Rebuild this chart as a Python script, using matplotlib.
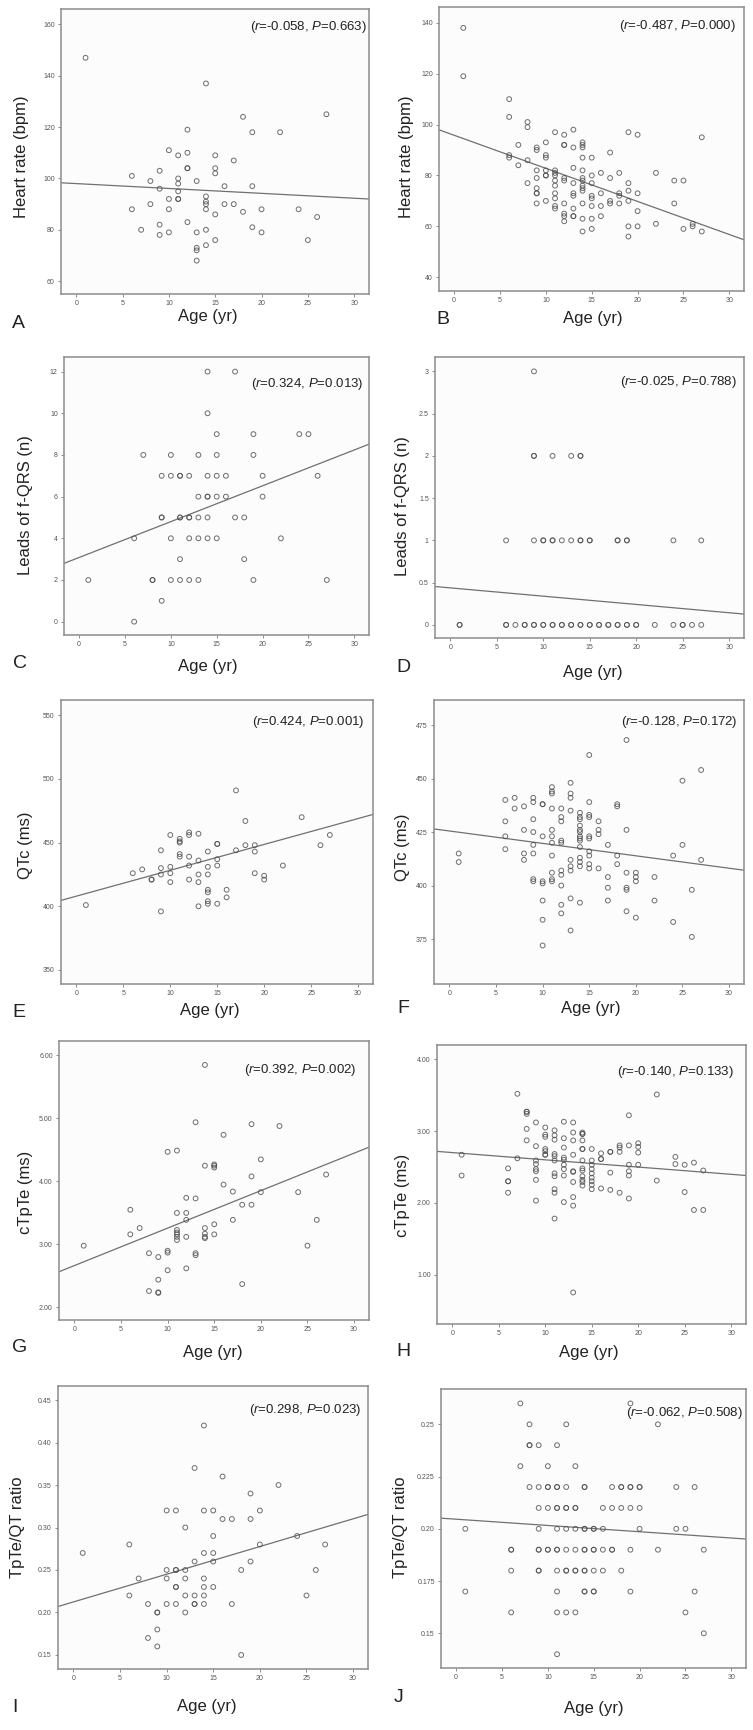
import numpy as np
import matplotlib.pyplot as plt

plt.rcParams['font.family'] = ['Liberation Sans', 'DejaVu Sans']
plt.rcParams['mathtext.fontset'] = 'custom'
plt.rcParams['mathtext.rm'] = 'Liberation Sans'
plt.rcParams['mathtext.it'] = 'Liberation Sans:italic'

# ---- data ----
# A: heart rate, group 1
A_age = [1, 14, 27, 18, 12, 19, 22, 10, 11, 12, 15, 17, 12, 12, 15, 15, 6, 9, 11, 8,
         13, 11, 9, 16, 19, 11, 14, 10, 11, 11, 14, 14, 8, 16, 17, 6, 10, 14, 20, 24,
         18, 15, 26, 12, 9, 19, 7, 14, 10, 13, 20, 9, 15, 25, 14, 13, 13, 13]
A_hr = [147, 137, 125, 124, 119, 118, 118, 111, 109, 110, 109, 107, 104, 104, 104, 102, 101, 103, 100, 99,
        99, 98, 96, 97, 97, 95, 93, 92, 92, 92, 91, 90, 90, 90, 90, 88, 88, 88, 88, 88,
        87, 86, 85, 83, 82, 81, 80, 80, 79, 79, 79, 78, 76, 76, 74, 73, 72, 68]

# B: heart rate, group 2
B_age = [1, 1,
         6, 6, 6, 6,
         7, 7,
         8, 8, 8, 8,
         9, 9, 9, 9, 9, 9, 9, 9,
         10, 10, 10, 10, 10, 10, 10,
         11, 11, 11, 11, 11, 11, 11, 11, 11, 11,
         12, 12, 12, 12, 12, 12, 12, 12, 12,
         13, 13, 13, 13, 13, 13, 13, 13, 13,
         14, 14, 14, 14, 14, 14, 14, 14, 14, 14, 14, 14, 14,
         15, 15, 15, 15, 15, 15, 15, 15,
         16, 16, 16, 16,
         17, 17, 17, 17,
         18, 18, 18, 18,
         19, 19, 19, 19, 19, 19,
         20, 20, 20, 20,
         22, 22, 24, 24, 25, 25, 26, 26, 27, 27]
B_hr = [138, 119,
        110, 103, 88, 87,
        92, 84,
        101, 99, 86, 77,
        91, 90, 82, 79, 75, 73, 73, 69,
        93, 88, 87, 82, 80, 80, 70,
        97, 82, 81, 80, 78, 76, 73, 71, 68, 67,
        96, 92, 92, 79, 78, 69, 65, 64, 62,
        98, 91, 83, 77, 73, 72, 67, 64, 64,
        93, 92, 91, 87, 82, 79, 78, 76, 75, 74, 69, 63, 58,
        87, 80, 77, 72, 71, 68, 63, 59,
        81, 73, 68, 64,
        89, 79, 70, 69,
        81, 73, 72, 69,
        97, 77, 74, 70, 60, 56,
        96, 73, 66, 60,
        81, 61, 78, 69, 78, 59, 61, 60, 95, 58]

# C: leads of f-QRS, group 1
C_age = [14, 17, 14, 15, 19, 24, 25, 7, 10, 13, 15, 19, 9, 10, 11, 11, 12, 14, 15, 16, 20, 26,
         13, 14, 14, 15, 16, 20, 9, 9, 11, 11, 12, 12, 13, 14, 17, 18, 6, 10, 12, 13, 14, 15, 22,
         11, 18, 1, 8, 8, 10, 11, 12, 13, 19, 27, 9, 6]
C_leads = [12, 12, 10, 9, 9, 9, 9, 8, 8, 8, 8, 8, 7, 7, 7, 7, 7, 7, 7, 7, 7, 7,
           6, 6, 6, 6, 6, 6, 5, 5, 5, 5, 5, 5, 5, 5, 5, 5, 4, 4, 4, 4, 4, 4, 4,
           3, 3, 2, 2, 2, 2, 2, 2, 2, 2, 2, 1, 0]

# D: leads of f-QRS, group 2
D_age = [9,
         9, 9, 11, 13, 14, 14,
         6, 9, 10, 10, 11, 11, 12, 13, 14, 14, 15, 15, 18, 18, 19, 19, 24, 27,
         1, 1, 6, 6, 7, 8, 8, 9, 9, 10, 10, 11, 11, 12, 12, 13, 13, 14, 14, 15, 15,
         16, 16, 17, 17, 18, 18, 19, 19, 20, 20, 22, 24, 25, 25, 26, 27]
D_leads = [3,
           2, 2, 2, 2, 2, 2,
           1, 1, 1, 1, 1, 1, 1, 1, 1, 1, 1, 1, 1, 1, 1, 1, 1, 1,
           0, 0, 0, 0, 0, 0, 0, 0, 0, 0, 0, 0, 0, 0, 0, 0, 0, 0, 0, 0, 0,
           0, 0, 0, 0, 0, 0, 0, 0, 0, 0, 0, 0, 0, 0, 0, 0]

# E: QTc, group 1
E_age = [1, 17, 18, 24, 27, 26, 6, 7, 8, 8, 9, 9, 9, 9, 10, 10, 10, 10, 11, 11,
         11, 11, 11, 12, 12, 12, 12, 12, 13, 13, 13, 13, 13, 14, 14, 14, 14, 14, 14, 14,
         15, 15, 15, 15, 15, 16, 16, 17, 18, 19, 19, 19, 20, 20, 22]
E_qtc = [401, 491, 467, 470, 456, 448, 426, 429, 421, 421, 444, 430, 425, 396, 456, 431, 426, 419, 453, 451,
         450, 441, 439, 458, 456, 439, 432, 421, 457, 436, 425, 419, 400, 443, 431, 425, 413, 411, 404, 402,
         449, 449, 437, 432, 402, 413, 407, 444, 448, 448, 443, 426, 424, 421, 432]

# F: QTc, group 2
F_age = [1, 1,
         6, 6, 6, 6,
         7, 7,
         8, 8, 8, 8,
         9, 9, 9, 9, 9, 9, 9, 9,
         10, 10, 10, 10, 10, 10, 10, 10,
         11, 11, 11, 11, 11, 11, 11, 11, 11, 11, 11,
         12, 12, 12, 12, 12, 12, 12, 12, 12, 12,
         13, 13, 13, 13, 13, 13, 13, 13, 13,
         14, 14, 14, 14, 14, 14, 14, 14, 14, 14, 14, 14, 14, 14,
         15, 15, 15, 15, 15, 15, 15, 15, 15, 15,
         16, 16, 16, 16,
         17, 17, 17, 17,
         18, 18, 18, 18,
         19, 19, 19, 19, 19, 19,
         20, 20, 20, 20,
         22, 22, 24, 24, 25, 25, 26, 26, 27, 27]
F_qtc = [415, 411,
         440, 430, 423, 417,
         441, 436,
         437, 426, 415, 412,
         441, 439, 431, 425, 419, 415, 403, 402,
         438, 438, 423, 402, 401, 393, 384, 372,
         446, 444, 443, 436, 426, 423, 420, 414, 406, 403, 402,
         436, 432, 430, 421, 420, 407, 405, 400, 391, 387,
         448, 443, 441, 435, 412, 409, 407, 394, 379,
         434, 432, 431, 428, 426, 425, 423, 422, 421, 418, 413, 411, 409, 392,
         461, 439, 433, 432, 423, 422, 416, 414, 410, 408,
         430, 426, 424, 408,
         419, 404, 399, 393,
         438, 437, 414, 410,
         468, 426, 406, 399, 398, 388,
         406, 404, 402, 385,
         404, 393, 414, 383, 449, 419, 398, 376, 454, 412]

# G: cTpTe, group 1
G_age = [1, 14, 13, 19, 22, 16, 10, 11, 14, 15, 15, 15, 20, 19, 27, 16, 17, 20, 24, 12,
         13, 18, 19, 6, 11, 12, 12, 17, 26, 15, 7, 11, 11, 11, 11, 11, 14, 14, 14, 14,
         15, 6, 12, 25, 8, 9, 10, 10, 13, 13, 10, 12, 9, 8, 9, 9, 18]
G_ctpte = [2.98, 5.85, 4.94, 4.91, 4.88, 4.74, 4.47, 4.49, 4.25, 4.27, 4.25, 4.22, 4.35, 4.08, 4.11, 3.95, 3.84, 3.83, 3.83, 3.74,
           3.73, 3.63, 3.63, 3.55, 3.50, 3.50, 3.39, 3.39, 3.39, 3.32, 3.26, 3.23, 3.19, 3.16, 3.12, 3.07, 3.26, 3.17, 3.12, 3.10,
           3.16, 3.16, 3.12, 2.98, 2.86, 2.80, 2.90, 2.87, 2.86, 2.83, 2.59, 2.62, 2.44, 2.26, 2.24, 2.23, 2.37]

# H: cTpTe, group 2
H_age = [1, 1,
         6, 6, 6, 6,
         7, 7,
         8, 8, 8, 8, 8,
         9, 9, 9, 9, 9, 9, 9, 9,
         10, 10, 10, 10, 10, 10, 10,
         11, 11, 11, 11, 11, 11, 11, 11, 11, 11, 11,
         12, 12, 12, 12, 12, 12, 12, 12, 12,
         13, 13, 13, 13, 13, 13, 13, 13, 13, 13,
         14, 14, 14, 14, 14, 14, 14, 14, 14, 14, 14, 14, 14,
         15, 15, 15, 15, 15, 15, 15, 15, 15,
         16, 16, 16, 16,
         17, 17, 17, 17,
         18, 18, 18, 18,
         19, 19, 19, 19, 19, 19,
         20, 20, 20, 20,
         22, 22, 24, 24, 25, 25, 26, 26, 27, 27]
H_ctpte = [2.67, 2.38,
           2.48, 2.30, 2.30, 2.14,
           3.52, 2.62,
           3.27, 3.27, 3.24, 3.03, 2.87,
           3.12, 2.79, 2.59, 2.54, 2.47, 2.44, 2.32, 2.03,
           3.05, 2.95, 2.92, 2.75, 2.72, 2.67, 2.67,
           3.01, 2.94, 2.88, 2.68, 2.65, 2.59, 2.41, 2.37, 2.19, 2.14, 1.78,
           3.13, 2.90, 2.77, 2.63, 2.60, 2.53, 2.47, 2.38, 2.01,
           3.12, 2.98, 2.87, 2.67, 2.44, 2.43, 2.29, 2.08, 1.96, 0.75,
           2.98, 2.96, 2.96, 2.87, 2.75, 2.75, 2.59, 2.48, 2.45, 2.37, 2.32, 2.29, 2.24,
           2.75, 2.59, 2.53, 2.47, 2.41, 2.35, 2.30, 2.25, 2.19,
           2.69, 2.61, 2.61, 2.20,
           2.71, 2.71, 2.42, 2.18,
           2.80, 2.77, 2.71, 2.14,
           3.22, 2.80, 2.53, 2.44, 2.38, 2.06,
           2.83, 2.78, 2.70, 2.53,
           3.51, 2.31, 2.64, 2.54, 2.53, 2.15, 2.56, 1.90, 2.45, 1.90]

# I: TpTe/QT ratio, group 1
I_age = [1, 14, 13, 16, 22, 19, 10, 11, 14, 15, 20, 16, 17, 19, 12, 15, 24, 6, 20, 27,
         14, 15, 13, 15, 19, 10, 11, 11, 12, 18, 26, 7, 10, 12, 14, 11, 11, 14, 15, 6,
         12, 13, 14, 25, 8, 10, 11, 13, 13, 14, 17, 9, 9, 12, 9, 8, 9, 18]
I_ratio = [0.27, 0.42, 0.37, 0.36, 0.35, 0.34, 0.32, 0.32, 0.32, 0.32, 0.32, 0.31, 0.31, 0.31, 0.30, 0.29, 0.29, 0.28, 0.28, 0.28,
           0.27, 0.27, 0.26, 0.26, 0.26, 0.25, 0.25, 0.25, 0.25, 0.25, 0.25, 0.24, 0.24, 0.24, 0.24, 0.23, 0.23, 0.23, 0.23, 0.22,
           0.22, 0.22, 0.22, 0.22, 0.21, 0.21, 0.21, 0.21, 0.21, 0.21, 0.21, 0.20, 0.20, 0.20, 0.18, 0.17, 0.16, 0.15]

# J: TpTe/QT ratio, group 2
J_age = [7, 19,
         8, 12, 22,
         8, 8, 9, 11,
         7, 10, 13,
         8, 9, 10, 10, 11, 11, 12, 14, 14, 17, 18, 18, 19, 19, 20, 20, 24, 26,
         9, 10, 11, 11, 12, 12, 13, 13, 16, 17, 18, 19, 20,
         1, 9, 11, 12, 13, 14, 14, 15, 15, 16, 20, 24, 25,
         6, 6, 9, 9, 10, 10, 11, 11, 12, 13, 14, 14, 15, 15, 16, 17, 17, 19, 22, 27,
         6, 9, 9, 11, 12, 12, 13, 13, 14, 14, 15, 16, 18,
         1, 11, 14, 14, 15, 15, 19, 26,
         6, 11, 12, 13, 25,
         27, 11]
J_ratio = [0.26, 0.26,
           0.25, 0.25, 0.25,
           0.24, 0.24, 0.24, 0.24,
           0.23, 0.23, 0.23,
           0.22, 0.22, 0.22, 0.22, 0.22, 0.22, 0.22, 0.22, 0.22, 0.22, 0.22, 0.22, 0.22, 0.22, 0.22, 0.22, 0.22, 0.22,
           0.21, 0.21, 0.21, 0.21, 0.21, 0.21, 0.21, 0.21, 0.21, 0.21, 0.21, 0.21, 0.21,
           0.20, 0.20, 0.20, 0.20, 0.20, 0.20, 0.20, 0.20, 0.20, 0.20, 0.20, 0.20, 0.20,
           0.19, 0.19, 0.19, 0.19, 0.19, 0.19, 0.19, 0.19, 0.19, 0.19, 0.19, 0.19, 0.19, 0.19, 0.19, 0.19, 0.19, 0.19, 0.19, 0.19,
           0.18, 0.18, 0.18, 0.18, 0.18, 0.18, 0.18, 0.18, 0.18, 0.18, 0.18, 0.18, 0.18,
           0.17, 0.17, 0.17, 0.17, 0.17, 0.17, 0.17, 0.17,
           0.16, 0.16, 0.16, 0.16, 0.16,
           0.15, 0.14]

# fitted lines (intercept, slope)
FIT_A = (98.0, -0.19)
FIT_B = (95.8, -1.30)
FIT_C = (3.08, 0.172)
FIT_D = (0.438, -0.0098)
FIT_E = (408.0, 2.03)
FIT_F = (425.5, -0.58)
FIT_G = (2.664, 0.0595)
FIT_H = (2.700, -0.0101)
FIT_I = (0.2124, 0.00326)
FIT_J = (0.2046, -0.0003)

STATS = ['(r=-0.058, P=0.663)', '(r=-0.487, P=0.000)', '(r=0.324, P=0.013)', '(r=-0.025, P=0.788)',
         '(r=0.424, P=0.001)', '(r=-0.128, P=0.172)', '(r=0.392, P=0.002)', '(r=-0.140, P=0.133)',
         '(r=0.298, P=0.023)', '(r=-0.062, P=0.508)']
LETTERS = ['A', 'B', 'C', 'D', 'E', 'F', 'G', 'H', 'I', 'J']
YLABELS = ['Heart rate (bpm)', 'Heart rate (bpm)', 'Leads of f-QRS (n)', 'Leads of f-QRS (n)',
           'QTc (ms)', 'QTc (ms)', 'cTpTe (ms)', 'cTpTe (ms)', 'TpTe/QT ratio', 'TpTe/QT ratio']
X_TICKS = [0, 5, 10, 15, 20, 25, 30]
XLIM = (-1.65, 31.6)

# ---- layout (pixel positions in the 753x1730 figure) ----
W, H = 753, 1730
panels = [
    dict(x=A_age, y=A_hr, fit=FIT_A, box=(61, 9, 369, 294), ylim=(55, 166),
         yt=[60, 80, 100, 120, 140, 160], ytl=None, stat=(367, 27), ylab=(22, 157), xlab=(208, 316), let=(18, 324)),
    dict(x=B_age, y=B_hr, fit=FIT_B, box=(439, 7, 744, 291), ylim=(34.6, 146.2),
         yt=[40, 60, 80, 100, 120, 140], ytl=None, stat=(736, 26), ylab=(407, 157), xlab=(593, 318), let=(443, 320)),
    dict(x=C_age, y=C_leads, fit=FIT_C, box=(64, 357, 369, 635), ylim=(-0.64, 12.7),
         yt=[0, 2, 4, 6, 8, 10, 12], ytl=None, stat=(363, 384), ylab=(26, 505), xlab=(208, 667), let=(20, 663)),
    dict(x=D_age, y=D_leads, fit=FIT_D, box=(435, 357, 744, 638), ylim=(-0.155, 3.17),
         yt=[0, 0.5, 1, 1.5, 2, 2.5, 3], ytl=['0', '0.5', '1', '1.5', '2', '2.5', '3'],
         stat=(737, 382), ylab=(402, 506), xlab=(593, 672), let=(403, 667)),
    dict(x=E_age, y=E_qtc, fit=FIT_E, box=(61, 700, 373, 984), ylim=(339, 562),
         yt=[350, 400, 450, 500, 550], ytl=None, stat=(364, 722), ylab=(26, 845), xlab=(210, 1011), let=(19, 1013)),
    dict(x=F_age, y=F_qtc, fit=FIT_F, box=(434, 700, 744, 984), ylim=(354, 486.7),
         yt=[375, 400, 425, 450, 475], ytl=None, stat=(738, 722), ylab=(403, 847), xlab=(591, 1009), let=(403, 1008)),
    dict(x=G_age, y=G_ctpte, fit=FIT_G, box=(59, 1041, 369, 1320), ylim=(1.8, 6.23),
         yt=[2, 3, 4, 5, 6], ytl=['2.00', '3.00', '4.00', '5.00', '6.00'],
         stat=(356, 1070), ylab=(26, 1192), xlab=(213, 1352), let=(20, 1347)),
    dict(x=H_age, y=H_ctpte, fit=FIT_H, box=(437, 1045, 746, 1324), ylim=(0.31, 4.2),
         yt=[1, 2, 3, 4], ytl=['1.00', '2.00', '3.00', '4.00'],
         stat=(734, 1072), ylab=(402, 1195), xlab=(589, 1352), let=(403, 1352)),
    dict(x=I_age, y=I_ratio, fit=FIT_I, box=(58, 1386, 368, 1669), ylim=(0.1335, 0.4665),
         yt=[0.15, 0.20, 0.25, 0.30, 0.35, 0.40, 0.45], ytl=['0.15', '0.20', '0.25', '0.30', '0.35', '0.40', '0.45'],
         stat=(361, 1410), ylab=(18, 1527), xlab=(207, 1707), let=(15, 1707)),
    dict(x=J_age, y=J_ratio, fit=FIT_J, box=(441, 1389, 746, 1668), ylim=(0.1334, 0.2669),
         yt=[0.15, 0.175, 0.20, 0.225, 0.25], ytl=['0.15', '0.175', '0.20', '0.225', '0.25'],
         stat=(743, 1413), ylab=(400, 1527), xlab=(594, 1709), let=(399, 1698)),
]


def fx(px):
    return px / W


def fy(py):
    return 1 - py / H


fig = plt.figure(figsize=(W / 100, H / 100), dpi=100)
fig.patch.set_facecolor('white')

for i, p in enumerate(panels):
    l, t, r, b = p['box']
    ax = fig.add_axes([fx(l), fy(b), (r - l) / W, (b - t) / H])
    ax.set_facecolor('#fcfcfc')
    for sp in ax.spines.values():
        sp.set_color('#8c8c8c')
        sp.set_linewidth(1.1)

    xs = np.array(XLIM)
    b0, b1 = p['fit']
    ax.plot(xs, b0 + b1 * xs, color='#707070', lw=0.9, zorder=2)
    ax.scatter(p['x'], p['y'], s=12, facecolors='none', edgecolors='#4a4a4a',
               linewidths=0.7, alpha=0.8, zorder=3)

    ax.set_xlim(*XLIM)
    ax.set_ylim(*p['ylim'])
    ax.set_xticks(X_TICKS)
    ax.set_xticklabels([str(v) for v in X_TICKS])
    ax.set_yticks(p['yt'])
    if p['ytl'] is None:
        ax.set_yticklabels([str(v) for v in p['yt']])
    else:
        ax.set_yticklabels(p['ytl'])
    ax.tick_params(direction='out', length=2.5, width=0.6, color='#777777',
                   labelsize=5, labelcolor='#555555', pad=2)

    fig.text(fx(p['stat'][0]), fy(p['stat'][1]),
             STATS[i].replace('(r', '($\\it{r}$').replace('P=', '$\\it{P}$='),
             ha='right', va='center', fontsize=9.5, color='#222222')
    fig.text(fx(p['ylab'][0]), fy(p['ylab'][1]), YLABELS[i], rotation=90,
             ha='center', va='center', fontsize=12, color='#222222')
    fig.text(fx(p['xlab'][0]), fy(p['xlab'][1]), 'Age (yr)',
             ha='center', va='center', fontsize=12, color='#222222')
    fig.text(fx(p['let'][0]), fy(p['let'][1]), LETTERS[i],
             ha='center', va='center', fontsize=14, color='#222222')

fig.savefig('out.png', dpi=100)
